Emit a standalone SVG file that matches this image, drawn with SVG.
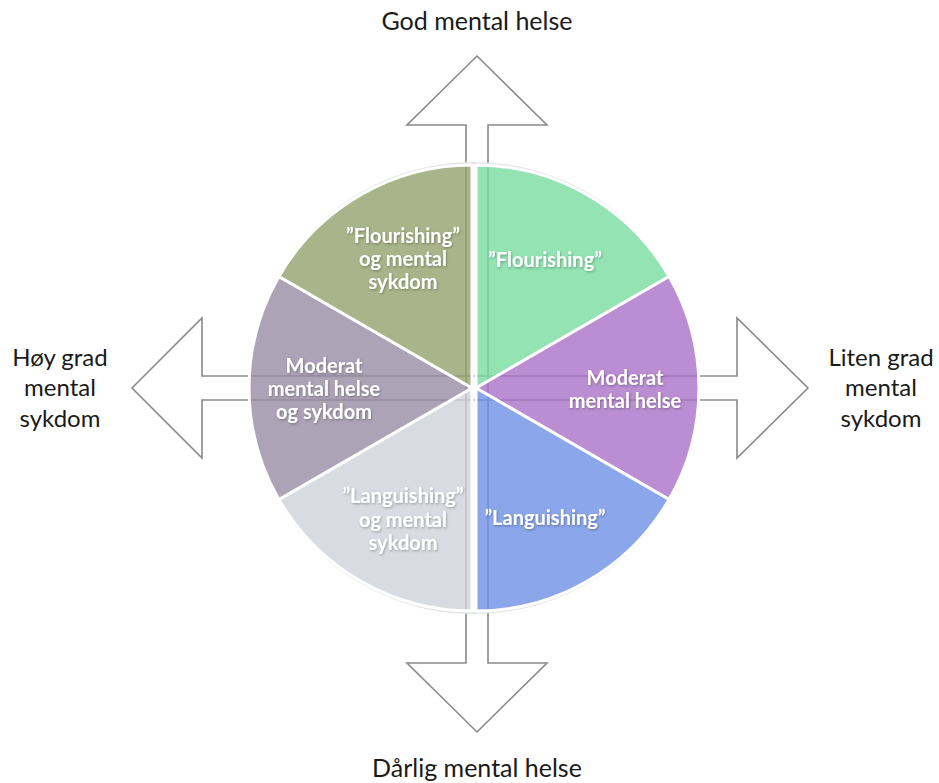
<svg xmlns="http://www.w3.org/2000/svg" width="939" height="783" viewBox="0 0 939 783">
<defs>
<style>
.af{fill:#fff;stroke:none}
.ao{fill:none;stroke:#8a8a8a;stroke-width:1.6;stroke-linejoin:miter}
.sl{fill-opacity:0.8;stroke:#fff;stroke-width:3;stroke-linejoin:round}
.lbl{font-family:Lato,"Open Sans","Liberation Sans",sans-serif;font-weight:bold;font-size:20px;fill:#fff;text-anchor:middle;filter:url(#sh)}
.out{font-family:Lato,"Open Sans","Liberation Sans",sans-serif;font-size:25px;fill:#1a1a1a;text-anchor:middle}
.side{font-size:24px}
</style>
<filter id="sh" x="-20%" y="-40%" width="140%" height="180%">
<feDropShadow dx="0.8" dy="1.2" stdDeviation="1.2" flood-color="#000" flood-opacity="0.3"/>
</filter>
</defs>
<rect width="939" height="783" fill="#fff"/>
<g id="connectors">
<polygon class="af" points="477,56 547,125 488,125 488,663 547,663 477,732 407,663 466,663 466,125 407,125"/>
<polygon class="af" points="132,388 202,318 202,376 737,376 737,318 808,388 737,458 737,400 202,400 202,458"/>
<polygon class="ao" points="477,56 547,125 488,125 488,663 547,663 477,732 407,663 466,663 466,125 407,125"/>
<polygon class="ao" points="132,388 202,318 202,376 737,376 737,318 808,388 737,458 737,400 202,400 202,458"/>
</g>
<circle cx="474" cy="388" r="225" fill="none" stroke="#e4e4e4" stroke-width="2"/>
<g id="flourishing">
<path class="sl" fill="#78dca0" d="M476,388 L476,165 A223,223 0 0 1 669.1,276.5 Z"/>
<text class="lbl" x="545" y="267">”Flourishing”</text>
</g>
<g id="moderat">
<path class="sl" fill="#aa72c8" d="M476,388 L669.1,276.5 A223,223 0 0 1 669.1,499.5 Z"/>
<text class="lbl" x="625" y="385">Moderat</text>
<text class="lbl" x="625" y="408">mental helse</text>
</g>
<g id="languishing">
<path class="sl" fill="#6e90e5" d="M476,388 L669.1,499.5 A223,223 0 0 1 476,611 Z"/>
<text class="lbl" x="545" y="525">”Languishing”</text>
</g>
<g id="languishing-sykdom">
<path class="sl" fill="#ced3db" d="M472,388 L472,611 A223,223 0 0 1 278.9,499.5 Z"/>
<text class="lbl" x="403" y="503">”Languishing”</text>
<text class="lbl" x="403" y="527">og mental</text>
<text class="lbl" x="403" y="550">sykdom</text>
</g>
<g id="moderat-sykdom">
<path class="sl" fill="#998ca4" d="M472,388 L278.9,499.5 A223,223 0 0 1 278.9,276.5 Z"/>
<text class="lbl" x="324" y="373">Moderat</text>
<text class="lbl" x="324" y="396">mental helse</text>
<text class="lbl" x="324" y="419">og sykdom</text>
</g>
<g id="flourishing-sykdom">
<path class="sl" fill="#95a16d" d="M472,388 L278.9,276.5 A223,223 0 0 1 472,165 Z"/>
<text class="lbl" x="403" y="243">”Flourishing”</text>
<text class="lbl" x="403" y="266">og mental</text>
<text class="lbl" x="403" y="289">sykdom</text>
</g>
<g id="god">
<text class="out" x="477" y="30">God mental helse</text>
</g>
<g id="darlig">
<text class="out" x="477" y="777">Dårlig mental helse</text>
</g>
<g id="hoy">
<text class="out side" x="60" y="366">Høy grad</text>
<text class="out side" x="60" y="396">mental</text>
<text class="out side" x="60" y="427">sykdom</text>
</g>
<g id="liten">
<text class="out side" x="881" y="366">Liten grad</text>
<text class="out side" x="881" y="396">mental</text>
<text class="out side" x="881" y="427">sykdom</text>
</g>
</svg>
